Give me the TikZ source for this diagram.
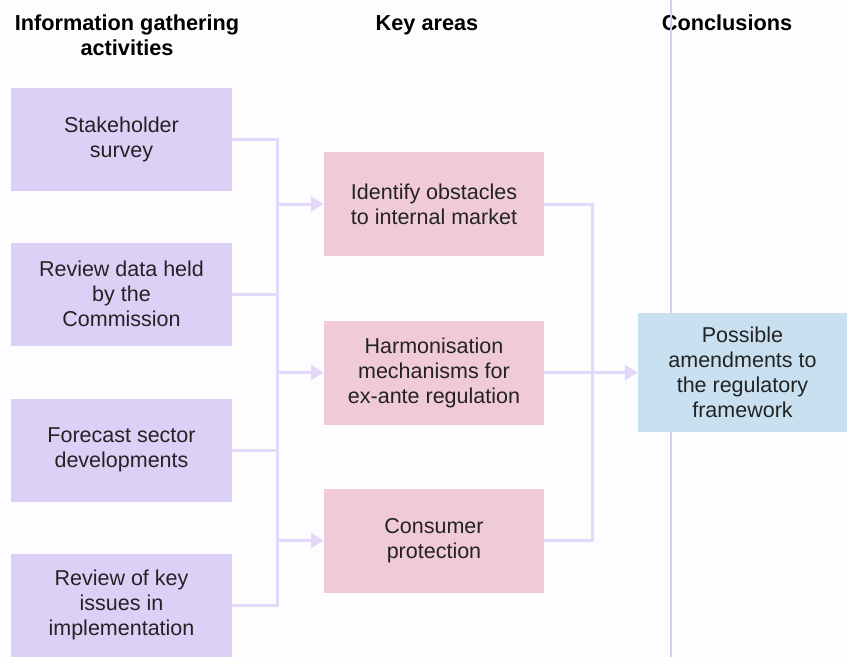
\documentclass[tikz,border=0pt]{standalone}
\usepackage{fontspec}
\setmainfont{Liberation Sans}
\usetikzlibrary{arrows.meta}

\definecolor{gatherfill}{RGB}{221,208,246}
\definecolor{areafill}{RGB}{240,202,216}
\definecolor{conclfill}{RGB}{200,224,240}
\definecolor{linkcol}{RGB}{226,216,250}
\definecolor{sepcol}{RGB}{214,204,245}
\definecolor{inkcol}{RGB}{35,35,35}
\definecolor{pagecol}{RGB}{253,253,255}

\begin{document}
\begin{tikzpicture}[x=1pt,y=-1pt,
  every node/.style={inner sep=0pt, align=center, text=inkcol},
  boxtext/.style={font=\fontsize{21.5}{25}\selectfont},
  headtext/.style={font=\fontsize{21.7}{25}\selectfont\bfseries, text=black},
  gatherbox/.style={boxtext, fill=gatherfill, minimum width=221pt, minimum height=103pt},
  areabox/.style={boxtext, fill=areafill, minimum width=220pt, minimum height=104pt},
  conclbox/.style={boxtext, fill=conclfill, minimum width=209pt, minimum height=119pt},
  link/.style={draw=linkcol, line width=3pt},
  linkarrow/.style={link, -{Triangle[length=13pt,width=15pt]}},
  separator/.style={draw=sepcol, line width=1.6pt}
]
% page
\fill[pagecol] (0,0) rectangle (848,657);
\useasboundingbox (0,0) rectangle (848,657);

% column headings (base anchor sits on the last line)
\node[headtext, anchor=base] (hgather) at (127,55) {Information gathering\\activities};
\node[headtext, anchor=base] (hareas) at (427,30) {Key areas};
\node[headtext, anchor=base] (hconcl) at (727,30) {Conclusions};

% divider in front of the conclusions column
\coordinate (septop) at (671,0);
\coordinate (sepbot) at (671,657);
\draw[separator] (septop) -- (sepbot);

% information gathering activities
\node[gatherbox] (g1) at (121.5,139) {Stakeholder\\survey};
\node[gatherbox] (g2) at (121.5,294) {Review data held\\by the\\Commission};
\node[gatherbox] (g3) at (121.5,450) {Forecast sector\\developments};
\node[gatherbox] (g4) at (121.5,605) {Review of key\\issues in\\implementation};

% key areas
\node[areabox] (a1) at (434,204) {Identify obstacles\\to internal market};
\node[areabox] (a2) at (434,372.5) {Harmonisation\\mechanisms for\\ex-ante regulation};
\node[areabox] (a3) at (434,540.5) {Consumer\\protection};

% conclusion
\node[conclbox] (c1) at (742.5,372.5) {Possible\\amendments to\\the regulatory\\framework};

% collecting bus on the left
\coordinate (busl) at (277,0);
\draw[link] (g1.east) -- (g1.east -| busl) -- (g4.east -| busl) -- (g4.east);
\draw[link] (g2.east) -- (g2.east -| busl);
\draw[link] (g3.east) -- (g3.east -| busl);
\draw[linkarrow] (a1.west -| busl) -- (a1.west);
\draw[linkarrow] (a2.west -| busl) -- (a2.west);
\draw[linkarrow] (a3.west -| busl) -- (a3.west);

% collecting bus on the right
\coordinate (busr) at (592,0);
\draw[link] (a1.east) -- (a1.east -| busr) -- (a3.east -| busr) -- (a3.east);
\draw[linkarrow] (a2.east) -- (c1.west);
\end{tikzpicture}
\end{document}
